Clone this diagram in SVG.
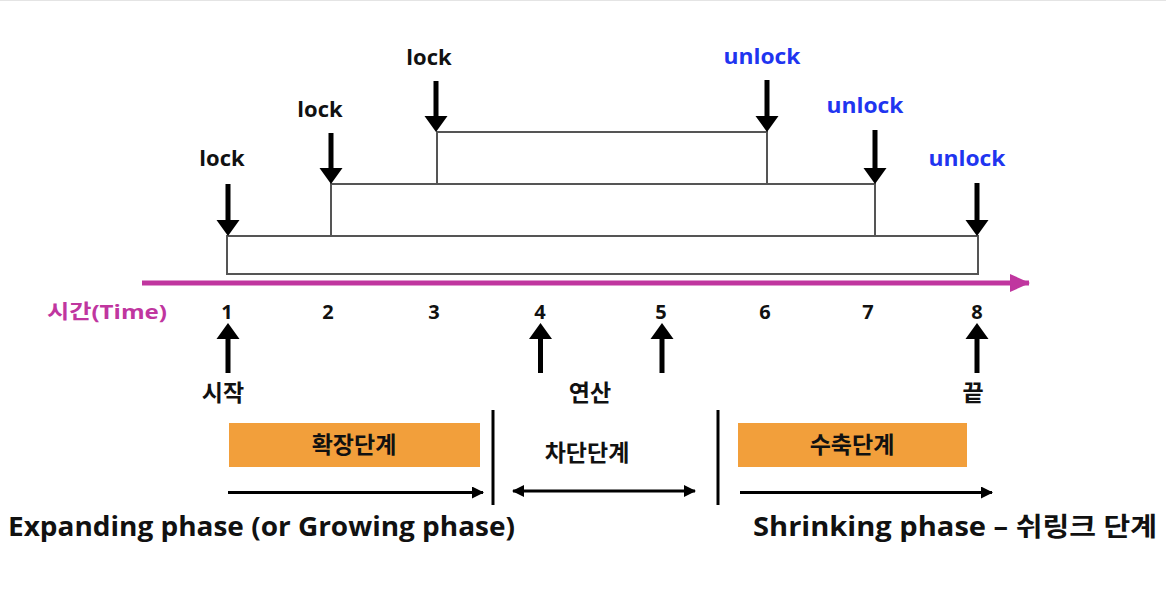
<svg xmlns="http://www.w3.org/2000/svg" width="1166" height="604" viewBox="0 0 1166 604">
<style>
  .t { font-family: "Open Sans", "Noto Sans CJK KR", sans-serif; font-weight: bold; fill: #111; }
  .lk { font-size: 22px; text-anchor: middle; }
  .ul { font-size: 22px; text-anchor: middle; fill: #1F35F0; }
  .num { font-size: 20px; text-anchor: middle; }
  .ko { font-size: 23px; text-anchor: middle; font-family: "Noto Sans CJK KR", sans-serif; }
  .big { font-size: 26px; font-weight: bold; }
  .bar { fill: #fff; stroke: #555; stroke-width: 2; }
  .ph { fill: #F29F3B; }
  .arr { fill: #000; }
  .hl { stroke: #000; stroke-width: 3; fill: none; }
  .dv { stroke: #000; stroke-width: 3; }
</style>
<defs>
  <marker id="hd" viewBox="0 0 12 12" refX="11" refY="6" markerWidth="12" markerHeight="12" markerUnits="userSpaceOnUse" orient="auto-start-reverse">
    <path d="M0,0 L12,6 L0,12 z" fill="#000"/>
  </marker>
  <marker id="mh" viewBox="0 0 20 18" refX="19" refY="9" markerWidth="20" markerHeight="18" markerUnits="userSpaceOnUse" orient="auto">
    <path d="M0,0 L20,9 L0,18 z" fill="#C0369F"/>
  </marker>
</defs>
<rect width="1166" height="604" fill="#fff"/>
<line x1="0" y1="0.5" x2="1166" y2="0.5" stroke="#e4e4e4"/>

<g id="bars">
  <rect id="bar3" class="bar" x="437" y="132" width="330" height="52"/>
  <rect id="bar2" class="bar" x="331" y="184" width="544" height="52"/>
  <rect id="bar1" class="bar" x="227" y="236" width="751" height="38"/>
</g>

<g id="connectors">
  <line id="timeline" x1="142" y1="283" x2="1029" y2="283" stroke="#C0369F" stroke-width="5" marker-end="url(#mh)"/>
  <!-- down arrows -->
  <path class="arr" d="M225.5,184 h5 v36 h9 l-11.5,16 l-11.5,-16 h9 z"/>
  <path class="arr" d="M328.5,133 h5 v35 h9 l-11.5,16 l-11.5,-16 h9 z"/>
  <path class="arr" d="M433.5,81 h5 v35 h9 l-11.5,16 l-11.5,-16 h9 z"/>
  <path class="arr" d="M764.5,80 h5 v36 h9 l-11.5,16 l-11.5,-16 h9 z"/>
  <path class="arr" d="M872.5,130 h5 v38 h9 l-11.5,16 l-11.5,-16 h9 z"/>
  <path class="arr" d="M974.5,183 h5 v37 h9 l-11.5,16 l-11.5,-16 h9 z"/>
  <!-- up arrows -->
  <path class="arr" d="M225.5,373 h5 v-34 h9 l-11.5,-16 l-11.5,16 h9 z"/>
  <path class="arr" d="M538,373 h5 v-34 h9 l-11.5,-16 l-11.5,16 h9 z"/>
  <path class="arr" d="M659.5,373 h5 v-34 h9 l-11.5,-16 l-11.5,16 h9 z"/>
  <path class="arr" d="M974.5,373 h5 v-34 h9 l-11.5,-16 l-11.5,16 h9 z"/>
  <!-- phase arrows -->
  <line class="hl" x1="228" y1="492.5" x2="483" y2="492.5" marker-end="url(#hd)"/>
  <line class="hl" x1="513" y1="491" x2="695" y2="491" marker-start="url(#hd)" marker-end="url(#hd)"/>
  <line class="hl" x1="740" y1="492.5" x2="992" y2="492.5" marker-end="url(#hd)"/>
  <!-- dividers -->
  <line class="dv" x1="493" y1="410" x2="493" y2="505"/>
  <line class="dv" x1="718" y1="410" x2="718" y2="505"/>
</g>

<g id="lock-labels">
  <text class="t lk" x="222" y="166">lock</text>
  <text class="t lk" x="320" y="117">lock</text>
  <text class="t lk" x="429" y="65">lock</text>
  <text class="t ul" x="762" y="64" textLength="77" lengthAdjust="spacingAndGlyphs">unlock</text>
  <text class="t ul" x="865" y="113" textLength="77" lengthAdjust="spacingAndGlyphs">unlock</text>
  <text class="t ul" x="967" y="166" textLength="77" lengthAdjust="spacingAndGlyphs">unlock</text>
</g>

<g id="time-axis">
  <text class="t" x="47" y="319" font-size="20" style="fill:#C0369F" textLength="120" lengthAdjust="spacingAndGlyphs">시간(Time)</text>
  <text class="t num" x="227" y="319">1</text>
  <text class="t num" x="328" y="319">2</text>
  <text class="t num" x="434" y="319">3</text>
  <text class="t num" x="540" y="319">4</text>
  <text class="t num" x="661" y="319">5</text>
  <text class="t num" x="765" y="319">6</text>
  <text class="t num" x="868" y="319">7</text>
  <text class="t num" x="977" y="319">8</text>
</g>

<g id="events">
  <text class="t ko" x="223" y="401">시작</text>
  <text class="t ko" x="590" y="401">연산</text>
  <text class="t ko" x="973" y="401">끝</text>
</g>

<g id="phase-expanding">
  <rect class="ph" x="229" y="423" width="251" height="44"/>
  <text class="t ko" x="354" y="453">확장단계</text>
</g>
<g id="phase-blocking">
  <text class="t ko" x="587" y="461">차단단계</text>
</g>
<g id="phase-shrinking">
  <rect class="ph" x="738" y="423" width="229" height="44"/>
  <text class="t ko" x="852" y="453">수축단계</text>
</g>

<g id="captions">
  <text class="t big" x="8" y="536" textLength="507" lengthAdjust="spacingAndGlyphs">Expanding phase (or Growing phase)</text>
  <text class="t big" x="753" y="536" textLength="404" lengthAdjust="spacingAndGlyphs">Shrinking phase – 쉬링크 단계</text>
</g>
</svg>
